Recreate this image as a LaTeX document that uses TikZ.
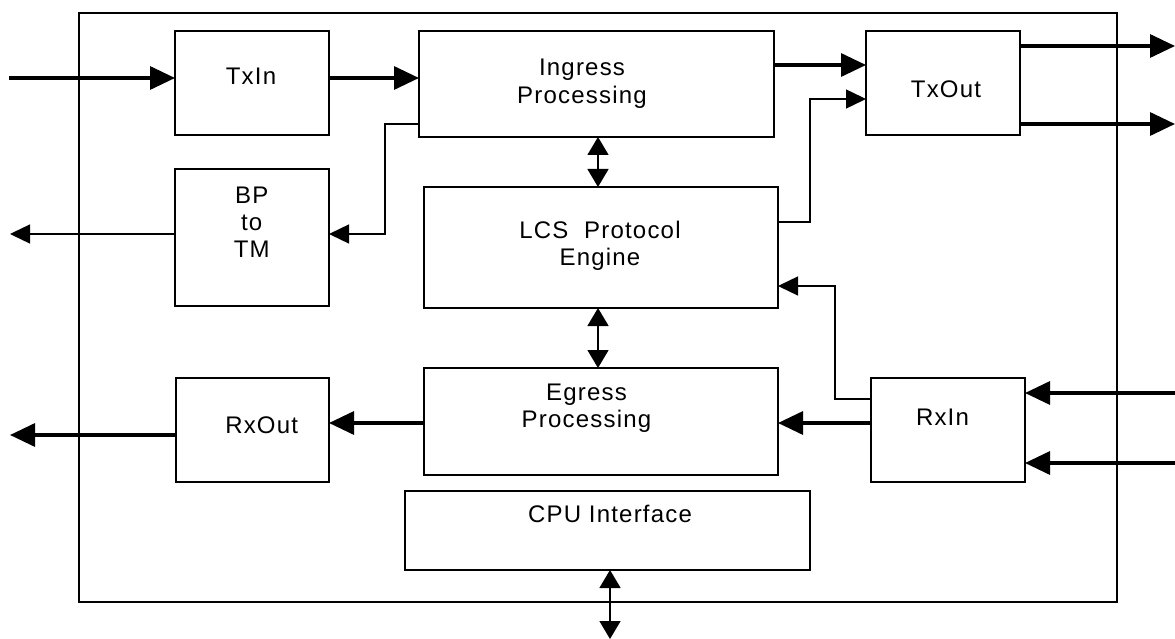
\documentclass[tikz,border=0pt]{standalone}
\usepackage{fontspec}
\setmainfont{Liberation Sans}[LetterSpace=5]
\usetikzlibrary{arrows.meta}
\begin{document}
\begin{tikzpicture}[x=1pt,y=-1pt,
  box/.style={draw,line width=2pt,rectangle,inner sep=0pt,outer sep=0pt},
  txt/.style={anchor=base,inner sep=0pt,font=\fontsize{24}{27.3}\selectfont},
  thk/.style={line width=3.3pt,-{Triangle[length=25pt,width=23pt]}},
  thn/.style={line width=1.4pt,-{Triangle[length=20pt,width=19pt]}},
  dbl/.style={line width=1.5pt,{Triangle[length=18pt,width=21pt]}-{Triangle[length=18pt,width=21pt]}}]
\useasboundingbox (0,0) rectangle (1175,639);
% outer frame
\draw[line width=2pt] (79,13) rectangle (1117,602);
% blocks
\node[box,minimum width=154pt,minimum height=104pt] (TxIn) at (252,83) {};
\node[box,minimum width=355pt,minimum height=106pt] (Ingress) at (596.5,84) {};
\node[box,minimum width=154pt,minimum height=104pt] (TxOut) at (943,83) {};
\node[box,minimum width=154pt,minimum height=137pt] (BP) at (252,237.5) {};
\node[box,minimum width=354pt,minimum height=121pt] (LCS) at (601,247.5) {};
\node[box,minimum width=354pt,minimum height=107pt] (Egress) at (601,421.5) {};
\node[box,minimum width=153pt,minimum height=104pt] (RxOut) at (252.5,430) {};
\node[box,minimum width=154pt,minimum height=104pt] (RxIn) at (948,430) {};
\node[box,minimum width=405pt,minimum height=79pt] (CPU) at (607.5,530.5) {};
% labels
\node[txt] (tTxIn) at (251,85) {TxIn};
\node[txt] (tIngress) at (582,76) {\begin{tabular}[t]{@{}c@{}}Ingress\\Processing\end{tabular}};
\node[txt] (tTxOut) at (946,97.3) {TxOut};
\node[txt] (tBP) at (251.7,203.3) {\begin{tabular}[t]{@{}c@{}}BP\\to\\TM\end{tabular}};
\node[txt] (tLCS) at (600,238.3) {\begin{tabular}[t]{@{}c@{}}LCS\ \ Protocol\\Engine\end{tabular}};
\node[txt] (tRxOut) at (261.7,433.3) {RxOut};
\node[txt] (tEgress) at (586.5,400) {\begin{tabular}[t]{@{}c@{}}Egress\\Processing\end{tabular}};
\node[txt] (tRxIn) at (942.5,425.3) {RxIn};
\node[txt] (tCPU) at (610,522.3) {CPU Interface};
% free ends
\coordinate (inTx) at (9,78);
\coordinate (outBP) at (10,234);
\coordinate (outRx) at (10,435);
\coordinate (outTx1) at (1175,46);
\coordinate (outTx2) at (1175,124);
\coordinate (inRx1) at (1175,393);
\coordinate (inRx2) at (1175,463);
\coordinate (cpuBus) at (610,639);
% connectors
\draw[thk] (inTx) -- (inTx -| TxIn.west);
\draw[thk] (inTx -| TxIn.east) -- (inTx -| Ingress.west);
\draw[thk] (Ingress.east |- 0,65) -- (TxOut.west |- 0,65);
\draw[thk] (TxOut.east |- outTx1) -- (outTx1);
\draw[thk] (TxOut.east |- outTx2) -- (outTx2);
\draw[thn] (Ingress.west |- 0,124) -- (385,124) -- (385,234) -- (BP.east |- 0,234);
\draw[thn] (BP.west |- outBP) -- (outBP);
\draw[dbl] (598,0 |- Ingress.south) -- (598,0 |- LCS.north);
\draw[thn] (LCS.east |- 0,222) -- (810,222) -- (810,99) -- (TxOut.west |- 0,99);
\draw[thn] (RxIn.west |- 0,399) -- (835,399) -- (835,286) -- (LCS.east |- 0,286);
\draw[thk] (inRx1) -- (RxIn.east |- inRx1);
\draw[thk] (inRx2) -- (RxIn.east |- inRx2);
\draw[thk] (RxIn.west |- 0,423) -- (Egress.east |- 0,423);
\draw[dbl] (598,0 |- LCS.south) -- (598,0 |- Egress.north);
\draw[thk] (Egress.west |- 0,423) -- (RxOut.east |- 0,423);
\draw[thk] (RxOut.west |- outRx) -- (outRx);
\draw[dbl] (cpuBus |- CPU.south) -- (cpuBus);
\end{tikzpicture}
\end{document}
